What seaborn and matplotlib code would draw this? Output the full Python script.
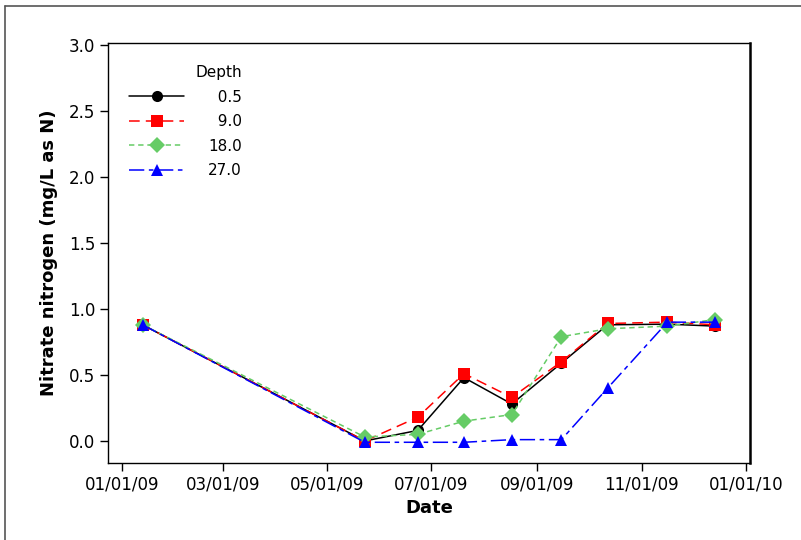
import numpy as np
import pandas as pd
import matplotlib
matplotlib.use("Agg")
import matplotlib.pyplot as plt
import matplotlib.dates as mdates
from matplotlib.lines import Line2D
import seaborn as sns

dates = ["2009-01-13", "2009-05-23", "2009-06-23", "2009-07-20", "2009-08-17",
         "2009-09-15", "2009-10-12", "2009-11-16", "2009-12-14"]
depths = ["0.5", "9.0", "18.0", "27.0"]
d_05 = [0.88, 0.00, 0.08, 0.48, 0.28, 0.59, 0.88, 0.885, 0.87]
d_90 = [0.88, 0.00, 0.18, 0.51, 0.33, 0.60, 0.89, 0.90, 0.88]
d_18 = [0.88, 0.03, 0.05, 0.15, 0.20, 0.79, 0.85, 0.87, 0.92]
d_27 = [0.88, -0.01, -0.01, -0.01, 0.01, 0.01, 0.40, 0.90, 0.90]

series = {"0.5": d_05, "9.0": d_90, "18.0": d_18, "27.0": d_27}
rows = []
for dep in depths:
    for dt, v in zip(dates, series[dep]):
        rows.append({"Date": pd.Timestamp(dt), "Nitrate": v, "Depth": dep})
df = pd.DataFrame(rows)

sns.set_theme(style="white")
plt.rcParams["font.family"] = ["DejaVu Sans"]
plt.rcParams["text.color"] = "black"

fig = plt.figure(figsize=(8.01, 5.40), dpi=100)
ax = fig.add_axes([108 / 801, 1 - 463 / 540, (750 - 108) / 801, (463 - 43) / 540])

palette = {"0.5": "#000000", "9.0": "#FF0000", "18.0": "#66CC66", "27.0": "#0000FF"}
markers = {"0.5": "o", "9.0": "s", "18.0": "D", "27.0": "^"}
dashes = {"0.5": "", "9.0": (7, 4), "18.0": (3.5, 2.5), "27.0": (10, 3, 3, 3)}

sns.lineplot(data=df, x="Date", y="Nitrate", hue="Depth", style="Depth",
             hue_order=depths, style_order=depths, palette=palette,
             markers=markers, dashes=dashes, markersize=8, markeredgewidth=0,
             linewidth=1.1, ax=ax)

ax.set_xlim(pd.Timestamp("2008-12-23 18:00"), pd.Timestamp("2010-01-03 08:00"))
ax.set_ylim(-0.167, 3.015)
ax.set_yticks(np.arange(0, 3.01, 0.5))
ax.yaxis.set_major_formatter(matplotlib.ticker.FormatStrFormatter("%.1f"))
ax.xaxis.set_major_locator(mdates.MonthLocator(bymonth=[1, 3, 5, 7, 9, 11]))
ax.xaxis.set_major_formatter(mdates.DateFormatter("%m/%d/%y"))

ax.tick_params(axis="both", which="major", direction="out", length=6, width=1,
               color="black", labelsize=12, labelcolor="black", bottom=True, left=True, pad=3)
for sp in ax.spines.values():
    sp.set_color("black")
    sp.set_linewidth(1.0)
ax.spines["right"].set_linewidth(1.8)

ax.set_xlabel("Date", fontsize=13, fontweight="bold", color="black", labelpad=4)
ax.set_ylabel("Nitrate nitrogen (mg/L as N)", fontsize=13, fontweight="bold", color="black", labelpad=8)

handles, labels = ax.get_legend_handles_labels()
hl = dict(zip(labels, handles))
fs = "\u2007"
new_labels = [fs + "0.5", fs + "9.0", "18.0", "27.0"]
leg = ax.legend([hl[d] for d in depths], new_labels, title="Depth", loc="upper left",
                bbox_to_anchor=(0.012, 0.98), frameon=False, fontsize=11, title_fontsize=11,
                handlelength=3.55, handletextpad=1.6, labelspacing=0.62)
leg._legend_box.align = "right"
for t in leg.get_texts():
    t.set_color("black")
leg.get_title().set_color("black")

fig.add_artist(Line2D([5 / 801, 1.0], [1 - 6 / 540, 1 - 6 / 540], transform=fig.transFigure,
                      color="#555555", linewidth=1.2))
fig.add_artist(Line2D([5 / 801, 5 / 801], [0.0, 1 - 6 / 540], transform=fig.transFigure,
                      color="#555555", linewidth=1.2))

fig.savefig("out.png", dpi=100)
